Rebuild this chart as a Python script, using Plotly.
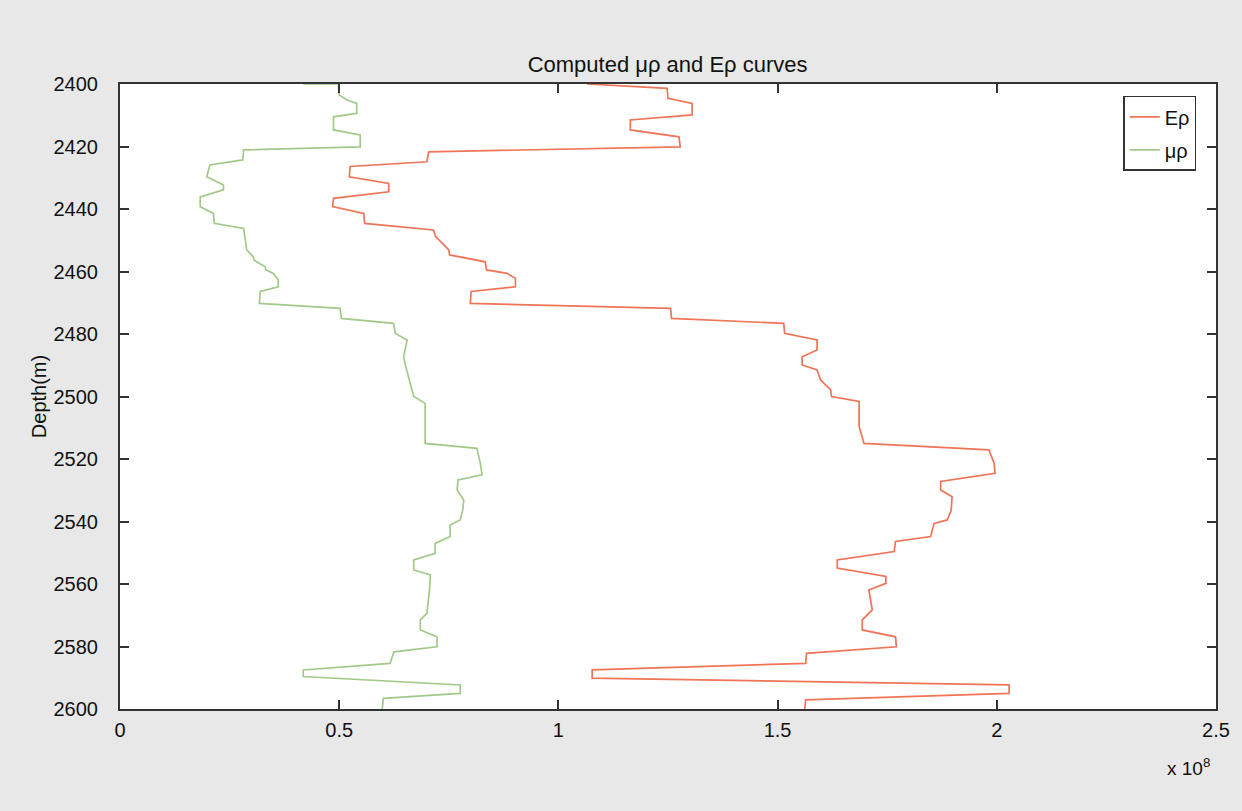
import plotly.graph_objects as go

# Eρ curve (values in units of 1e8)
depth_E = [2400.0, 2401.4, 2404.6, 2406.2, 2409.9, 2411.5, 2414.7, 2416.9, 2420.1, 2421.7,
           2424.9, 2426.4, 2429.7, 2431.8, 2434.5, 2436.6, 2439.2, 2441.4, 2444.6, 2445.6,
           2446.7, 2448.8, 2453.1, 2454.7, 2456.9, 2459.5, 2460.6, 2462.2, 2464.9, 2466.4,
           2470.2, 2471.8, 2475.0, 2476.6, 2479.8, 2481.9, 2485.1, 2487.3, 2489.9, 2491.5,
           2494.7, 2497.9, 2500.0, 2501.6, 2509.6, 2515.0, 2517.1, 2521.4, 2524.6, 2527.2,
           2529.9, 2532.1, 2536.3, 2539.5, 2540.6, 2544.8, 2546.4, 2549.6, 2552.3, 2554.9,
           2557.6, 2559.8, 2561.9, 2568.3, 2571.5, 2574.7, 2576.9, 2580.1, 2582.2, 2585.4,
           2587.5, 2590.1, 2592.3, 2595.0, 2597.1, 2600.0]
val_E = [1.065, 1.248, 1.250, 1.305, 1.305, 1.164, 1.164, 1.275, 1.278, 0.704,
         0.700, 0.525, 0.523, 0.613, 0.613, 0.487, 0.485, 0.556, 0.558, 0.639,
         0.715, 0.720, 0.750, 0.752, 0.833, 0.836, 0.883, 0.902, 0.902, 0.801,
         0.799, 1.256, 1.258, 1.514, 1.516, 1.590, 1.590, 1.556, 1.556, 1.590,
         1.598, 1.621, 1.623, 1.686, 1.686, 1.697, 1.982, 1.994, 1.996, 1.872,
         1.872, 1.898, 1.896, 1.887, 1.857, 1.849, 1.769, 1.766, 1.636, 1.636,
         1.747, 1.747, 1.708, 1.716, 1.693, 1.693, 1.769, 1.771, 1.566, 1.564,
         1.077, 1.077, 2.028, 2.028, 1.564, 1.562]

# μρ curve (values in units of 1e8)
depth_mu = [2400.0, 2400.0, 2403.5, 2405.1, 2406.2, 2409.4, 2410.5, 2414.7, 2416.3, 2420.1,
            2421.1, 2424.3, 2425.9, 2429.7, 2432.3, 2433.9, 2436.1, 2439.3, 2441.4, 2444.6,
            2446.2, 2453.1, 2455.3, 2456.4, 2458.5, 2459.5, 2460.6, 2462.7, 2464.9, 2466.4,
            2470.2, 2471.8, 2475.0, 2476.6, 2479.8, 2481.9, 2487.3, 2489.9, 2500.0, 2502.2,
            2515.0, 2516.6, 2521.4, 2525.1, 2526.7, 2529.9, 2533.1, 2536.3, 2539.5, 2541.1,
            2544.8, 2547.0, 2550.2, 2552.3, 2555.5, 2557.1, 2561.9, 2569.4, 2571.5, 2574.7,
            2576.9, 2580.1, 2581.7, 2585.4, 2587.5, 2589.6, 2592.3, 2595.0, 2596.6, 2600.0]
val_mu = [0.418, 0.498, 0.500, 0.518, 0.540, 0.540, 0.487, 0.487, 0.548, 0.548,
          0.282, 0.280, 0.205, 0.198, 0.236, 0.236, 0.183, 0.183, 0.213, 0.215,
          0.282, 0.289, 0.304, 0.306, 0.331, 0.333, 0.350, 0.361, 0.361, 0.320,
          0.318, 0.502, 0.505, 0.624, 0.628, 0.655, 0.647, 0.651, 0.670, 0.696,
          0.696, 0.814, 0.822, 0.826, 0.771, 0.769, 0.784, 0.782, 0.776, 0.753,
          0.753, 0.719, 0.719, 0.670, 0.670, 0.708, 0.706, 0.700, 0.685, 0.685,
          0.723, 0.723, 0.625, 0.616, 0.418, 0.418, 0.776, 0.776, 0.601, 0.598]

x_ticks = [0, 0.5, 1, 1.5, 2, 2.5]
x_tick_labels = ["0", "0.5", "1", "1.5", "2", "2.5"]
y_ticks = list(range(2400, 2601, 20))

FONT = "Liberation Sans, Arial, sans-serif"
AXC = "#333333"
TXT = "#111111"

fig = go.Figure()
fig.add_trace(go.Scatter(x=val_E, y=depth_E, mode="lines", name="Eρ",
                         legendgroup="e", line=dict(color="#ef7458", width=1.7)))
fig.add_trace(go.Scatter(x=val_mu, y=depth_mu, mode="lines", name="μρ",
                         legendgroup="m", line=dict(color="#a3c98a", width=1.7)))

fig.update_layout(
    width=1242, height=811,
    paper_bgcolor="#e8e8e8", plot_bgcolor="white",
    margin=dict(l=120, r=24, t=84, b=102),
    font=dict(family=FONT, size=20, color=TXT),
    title=dict(text="Computed μρ and Eρ curves", x=0.5375, xanchor="center",
               y=1 - 64 / 811, yanchor="middle", font=dict(size=22, color=TXT)),
    showlegend=True,
    legend=dict(x=0.982, xanchor="right", y=0.981, yanchor="top",
                bgcolor="white", bordercolor=AXC, borderwidth=1.5,
                font=dict(size=20, color=TXT), tracegroupgap=4),
    xaxis=dict(range=[0, 2.5], tickvals=x_ticks, ticktext=x_tick_labels,
               ticks="inside", ticklen=9, tickwidth=1.5, tickcolor=AXC,
               showline=True, linecolor=AXC, linewidth=2, mirror="ticks",
               showgrid=False, zeroline=False, tickfont=dict(size=20),
               ticklabelstandoff=2),
    yaxis=dict(range=[2600, 2400], tickvals=y_ticks,
               ticks="inside", ticklen=9, tickwidth=1.5, tickcolor=AXC,
               showline=True, linecolor=AXC, linewidth=2, mirror="ticks",
               showgrid=False, zeroline=False, tickfont=dict(size=20),
               ticklabelstandoff=16,
               title=dict(text="Depth(m)", font=dict(size=20), standoff=2)),
)

fig.add_annotation(xref="paper", yref="paper", x=0.996, y=-0.093, xanchor="right",
                   yanchor="middle", showarrow=False,
                   text="x 10<sup>8</sup>", font=dict(size=19, color=TXT))

fig.write_html("out.html", config={"displayModeBar": False},
               post_script="document.body.style.margin='0px';")
